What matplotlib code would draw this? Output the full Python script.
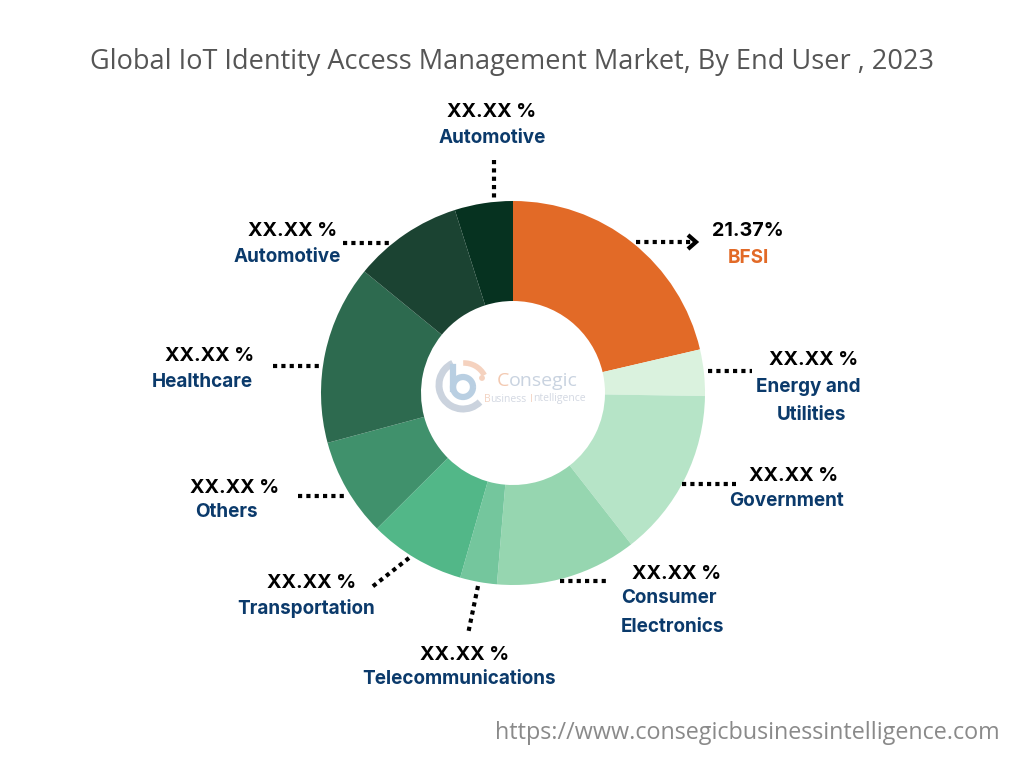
import matplotlib
matplotlib.use("Agg")
import matplotlib.pyplot as plt
from matplotlib.patches import Arc, Circle

# ---- data ----
categories = ["BFSI", "Energy and\nUtilities", "Government", "Consumer\nElectronics",
              "Telecommunications", "Transportation", "Others", "Healthcare",
              "Automotive", "Automotive"]
shares = [21.37, 3.9, 14.2, 11.9, 3.1, 8.1, 8.3, 15.1, 9.2, 4.9]
value_labels = ["21.37%", "XX.XX %", "XX.XX %", "XX.XX %", "XX.XX %", "XX.XX %",
                "XX.XX %", "XX.XX %", "XX.XX %", "XX.XX %"]
colors = ["#E26A27", "#DAF2DE", "#B6E4C7", "#96D6B0", "#74C69D", "#52B788",
          "#40916C", "#2D6A4F", "#1B4332", "#063220"]

title = "Global IoT Identity Access Management Market, By End User , 2023"
url = "https://www.consegicbusinessintelligence.com"

W, H = 1024, 768
fig = plt.figure(figsize=(W / 100, H / 100), dpi=100)
ax = fig.add_axes([0, 0, 1, 1])

def Y(py):
    return H - py

cx, cy, R, r_in = 513, 393, 192, 92
ax.pie(shares, colors=colors, startangle=90, counterclock=False,
       center=(cx, Y(cy)), radius=R, frame=True,
       wedgeprops=dict(width=R - r_in, edgecolor="none"))
ax.set_xlim(0, W)
ax.set_ylim(0, H)
ax.axis("off")

# ---- label layout (pixel coordinates) ----
layout = [
    (748, 231, 748, 258, [(636, 242), (692, 242)]),
    (814, 360, 808, 387, [(708, 371), (752, 371)]),
    (794, 476, 787, 501, [(682, 484), (736, 484)]),
    (677, 574, 669, 598, [(560, 581), (606, 581)]),
    (465, 655, 459, 679, [(478, 586), (468, 634)]),
    (312, 583, 306, 608, [(409, 558), (372, 587)]),
    (235, 488, 226, 512, [(298, 496), (346, 496)]),
    (210, 356, 202, 382, [(273, 366), (320, 366)]),
    (293, 231, 287, 257, [(343, 243), (390, 243)]),
    (492, 112, 492, 138, [(494, 160), (494, 201)]),
]

name_blue = "#0B3A6B"
for i, (vx, vy, nx, ny, pts) in enumerate(layout):
    ax.text(vx, Y(vy), value_labels[i], ha="center", va="center",
            fontsize=14.2, fontweight="bold", color="black", family="Inter")
    ncol = "#E26A27" if i == 0 else name_blue
    for k, line in enumerate(categories[i].split("\n")):
        ax.text(nx + (3 * k if i in (1, 3) else 0), Y(ny + 28.5 * k), line,
                ha="center", va="center", fontsize=13.6, fontweight="bold",
                color=ncol, family="Inter")
    xs = [p[0] for p in pts]
    ys = [Y(p[1]) for p in pts]
    ax.plot(xs, ys, color="black", lw=3, dashes=(1, 1), solid_capstyle="butt",
            dash_capstyle="butt")

# arrow head for BFSI
ax.plot([688, 696, 688], [Y(235), Y(242), Y(249)], color="black", lw=3,
        solid_capstyle="butt", solid_joinstyle="miter")

# ---- logo in the centre ----
ax.add_patch(Arc((463, Y(385)), 48, 48, theta1=115, theta2=315,
                 color="#CBD3DE", lw=5))
ax.add_patch(Arc((464, Y(386)), 46, 46, theta1=28, theta2=92,
                 color="#F5D2BF", lw=4))
ax.add_patch(Circle((482, Y(378)), 2.2, color="#F5D2BF"))
ax.add_patch(Arc((463, Y(387)), 20, 20, theta1=0, theta2=360,
                 color="#B9CFE2", lw=4.5))
ax.plot([453, 453], [Y(367), Y(389)], color="#B9CFE2", lw=4.5)
ax.text(497, Y(381), "C", fontsize=14, color="#F3C9B1", va="center",
        ha="left", family="Open Sans")
ax.text(509, Y(381), "onsegic", fontsize=14, color="#C9D3E0", va="center",
        ha="left", family="Open Sans")
ax.text(484, Y(399), "B", fontsize=7.5, color="#F3D3C2",
        va="center", ha="left", family="Open Sans")
ax.text(490, Y(399), "usiness", fontsize=7.5, color="#D3D8E2",
        va="center", ha="left", family="Open Sans")
ax.text(530, Y(399), "I", fontsize=7.5, color="#F3D3C2",
        va="center", ha="left", family="Open Sans")
ax.text(533, Y(399), "ntelligence", fontsize=7.5, color="#D3D8E2",
        va="center", ha="left", family="Open Sans")

# ---- title & url ----
ax.text(512, Y(62), title, ha="center", va="center", fontsize=19.5,
        color="#555555", family="Open Sans")
ax.text(747, Y(733), url, ha="center", va="center", fontsize=16.8,
        color="#8A8A8A", family="Open Sans")

fig.savefig("out.png", dpi=100)
